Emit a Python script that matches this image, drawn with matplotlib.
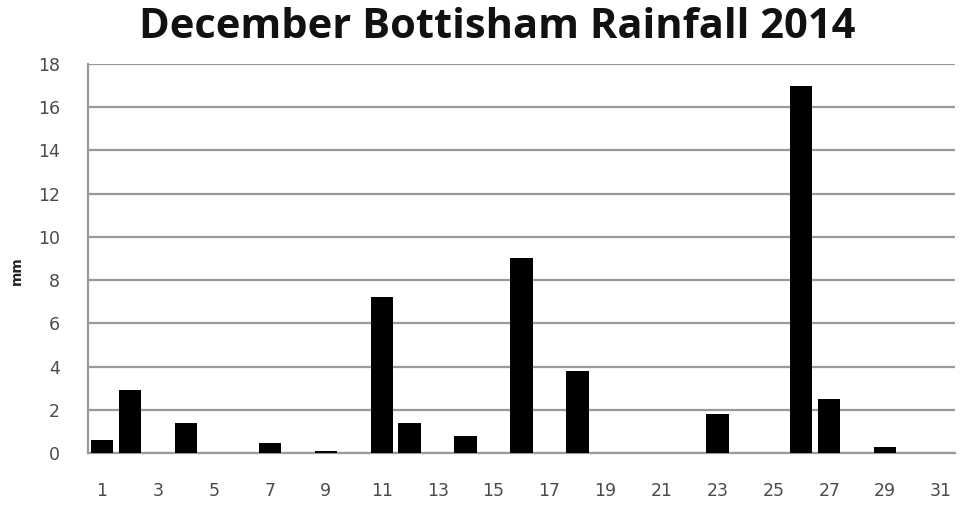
import matplotlib
matplotlib.use("Agg")
import matplotlib.pyplot as plt

days = list(range(1, 32))
rain_mm = [0.6, 2.9, 0, 1.4, 0, 0, 0.45, 0, 0.1, 0,
           7.2, 1.4, 0, 0.8, 0, 9.0, 0, 3.8, 0, 0,
           0, 0, 1.8, 0, 0, 17.0, 2.5, 0, 0.3, 0, 0]
tick_days = list(range(1, 32, 2))
y_ticks = list(range(0, 19, 2))

fig = plt.figure(figsize=(9.7, 5.07), dpi=100)
ax = fig.add_axes([0.0907, 0.1065, 0.894, 0.7673])
ax.bar(days, rain_mm, width=0.8, color="black", zorder=3)
ax.set_xlim(0.5, 31.5)
ax.set_ylim(0, 18)
ax.set_yticks(y_ticks)
ax.set_xticks(tick_days)
ax.set_xticklabels([str(d) for d in tick_days])
ax.yaxis.grid(True, color="#9a9a9a", linewidth=1.6, zorder=0)
ax.set_axisbelow(True)
for s in ["top", "right"]:
    ax.spines[s].set_visible(False)
ax.spines["left"].set_color("#9a9a9a")
ax.spines["left"].set_linewidth(1.6)
ax.spines["bottom"].set_color("#9a9a9a")
ax.spines["bottom"].set_linewidth(1.6)
ax.tick_params(axis="both", length=0, labelsize=12.5, colors="#4a4a4a")
ax.tick_params(axis="x", pad=21)
ax.tick_params(axis="y", pad=20)
ax.set_ylabel("mm", fontsize=10, fontweight="bold", color="#222222")
ax.yaxis.set_label_coords(-0.074, 0.47)
fig.text(0.513, 0.946, "December Bottisham Rainfall 2014", ha="center", va="center",
         fontsize=30, fontweight="bold", family="Open Sans", color="#111111")
fig.savefig("out.png", dpi=100, facecolor="white")
